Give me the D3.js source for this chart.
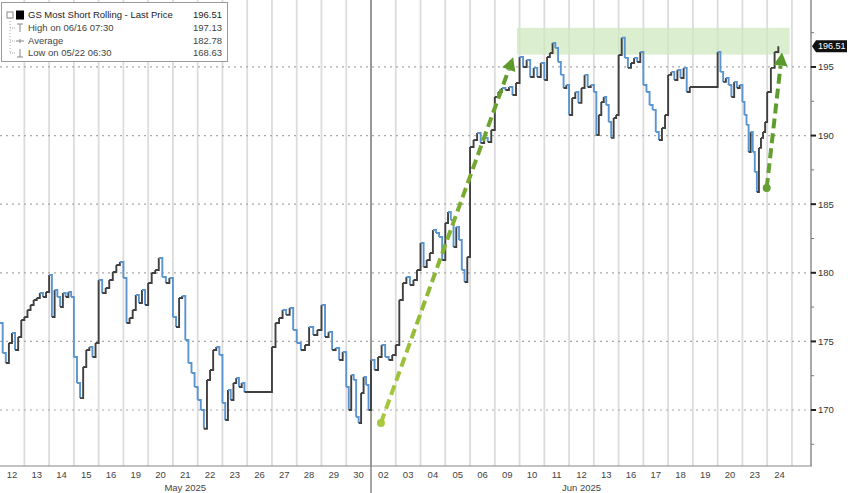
<!DOCTYPE html>
<html><head><meta charset="utf-8">
<script src="https://cdn.jsdelivr.net/npm/d3@7"></script>
<style>
html,body{margin:0;padding:0;background:#fff;}
svg{display:block;font-family:"Liberation Sans",Arial,sans-serif;}
</style></head>
<body><svg id="chart" width="848" height="493"></svg>
<script>
// ---------- DATA ----------
const dayLabels = ["12","13","14","15","16","19","20","21","22","23","26","27","28","29","30",
                   "02","03","04","05","06","09","10","11","12","13","16","17","18","19","20","23","24"];
const months = [
  {label:"May 2025", first:0, last:14},
  {label:"Jun 2025", first:15, last:31}
];
// intraday readings for each trading day (empty = market holiday)
const dayValues = [
  [176.34,174.15,173.43,174.88,175.61,174.37,175.32,176.56],            // May 12
  [176.78,177.29,177.65,178.02,178.16,178.53,178.24,178.60],            // May 13
  [179.84,176.78,178.75,178.24,177.51,178.53,178.24,178.60,178.24],     // May 14
  [173.86,171.97,170.87,173.13,174.37,174.59,173.86,174.88],            // May 15
  [179.48,178.53,178.89,179.48,180.06,180.57,180.79],                   // May 16
  [179.62,176.34,176.71,177.29,178.38,177.80,178.75,177.65],            // May 19
  [179.26,179.99,180.20,181.08,179.69,179.26,179.62],                   // May 20
  [176.78,176.05,178.16,178.31,175.10,173.43,172.70,171.68],            // May 21
  [170.73,170.00,168.63,172.19,172.92,174.37,174.59,174.01],            // May 22
  [170.51,169.27,171.46,170.73,171.97,172.33,171.68,171.97,171.31],     // May 23
  [],                                                                    // May 26
  [174.59,176.34,176.71,177.29,176.93,177.43,175.83],                   // May 27
  [174.88,174.37,174.74,176.05,175.47,175.83],                          // May 28
  [177.65,175.32,175.69,174.37,174.52,173.64,174.23],                   // May 29
  [171.68,170.00,172.55,172.19,169.49,169.05,171.24,172.41,171.82,170.00], // May 30
  [173.64,172.92,173.86,174.74,173.86,173.64,174.01],                   // Jun 02
  [174.74,178.02,179.26,179.69,179.11,179.48,180.20],                   // Jun 03
  [182.17,180.42,180.93,181.44,183.12,182.90,182.61,180.93],            // Jun 04
  [183.63,184.43,183.85,181.88,183.34,182.39,180.20,179.33,181.15],     // Jun 05
  [189.17,189.68,190.19,189.46,189.83,189.53,190.41],                   // Jun 06
  [192.81,193.18,193.47,193.32,193.54,192.96,193.83],                   // Jun 09
  [195.73,195.00,195.51,194.27,194.93,194.27,195.29],                   // Jun 10
  [194.05,195.73,196.02,196.75,196.38,195.36,194.42,193.47,193.69],     // Jun 11
  [191.50,192.74,193.18,192.38,193.47,194.42,193.54,193.69],            // Jun 12
  [193.18,190.04,191.50,192.45,192.81,192.23,190.99,189.83,191.28,191.50], // Jun 13
  [195.87,197.13,195.66,194.93,195.29,195.66,195.36,196.09],            // Jun 16
  [193.69,193.18,192.23,191.87,190.26,189.68,190.55,191.50],            // Jun 17
  [194.42,194.64,194.05,194.78,194.20,194.93,193.18,193.54],            // Jun 18
  [],                                                                    // Jun 19
  [196.09,194.64,193.91,194.20,193.69,192.81,193.91,193.47,193.69],     // Jun 20
  [192.45,191.50,190.77,188.80,190.26,188.80,187.35,185.89,189.10,189.83,190.26,190.99], // Jun 23
  [193.18,194.93,196.09,196.51]                                          // Jun 24
];
const lastSessionFraction = 0.45;   // share of the final day already traded
const yTicks = [170,175,180,185,190,195];
const yMinorTicks = [167.5,172.5,177.5,182.5,187.5,192.5,197.5];
const legendRows = [
  {label:"GS Most Short Rolling - Last Price", value:"196.51"},
  {label:"High on 06/16 07:30", value:"197.13"},
  {label:"Average", value:"182.78"},
  {label:"Low on 05/22 06:30", value:"168.63"}
];
const lastPrice = 196.51;
// highlighted band (day position, value)
const band = {t0:20.89, t1:31.91, v0:195.9, v1:197.85};
// annotation arrows: start (dot) -> tip
const arrows = [
  {t0:15.40, v0:169.05, t1:20.74, v1:195.70, c0:"#a9c93c", c1:"#5f9a2c"},
  {t0:30.98, v0:186.18, t1:31.60, v1:196.05, c0:"#66a032", c1:"#5a9a2c"}
];

// ---------- SCALES ----------
const svg = d3.select("#chart");
const W = 848, H = 493;
const axisX = 811, axisY = 466;
const x = d3.scaleLinear().domain([0, 32.77]).range([-0.4, axisX]);
const y = d3.scaleLinear().domain([165.92, 199.88]).range([axisY, 0]);

// ---------- GRID ----------
const nDays = dayLabels.length;
const boundaries = d3.range(1, nDays + 1);
svg.append("g").selectAll("line").data(boundaries).join("line")
  .attr("x1", d => x(d)).attr("x2", d => x(d))
  .attr("y1", 0).attr("y2", axisY)
  .attr("stroke", "#dcdcdc").attr("stroke-width", 1.8);
// month separator
svg.append("line")
  .attr("x1", x(months[1].first)).attr("x2", x(months[1].first))
  .attr("y1", 0).attr("y2", H)
  .attr("stroke", "#6a6a6a").attr("stroke-width", 1.2);

svg.append("g").selectAll("line").data(yTicks).join("line")
  .attr("x1", 0).attr("x2", axisX)
  .attr("y1", d => y(d)).attr("y2", d => y(d))
  .attr("stroke", "#a8a8a8").attr("stroke-width", 1.2)
  .attr("stroke-dasharray", "2,4");

// highlighted band
svg.append("rect")
  .attr("x", x(band.t0)).attr("width", x(band.t1) - x(band.t0))
  .attr("y", y(band.v1)).attr("height", y(band.v0) - y(band.v1))
  .attr("fill", "#cfe8bf").attr("opacity", 0.75);

// ---------- SERIES ----------
const pts = [];
dayValues.forEach((vals, d) => {
  const n = vals.length;
  const span = d === nDays - 1 ? lastSessionFraction : 1;
  vals.forEach((v, i) => pts.push({t: d + (n > 1 ? i / (d === nDays - 1 ? n - 1 : n) : 0) * span, v}));
});
const seg = svg.append("g").attr("fill", "none").attr("stroke-width", 1.9);
for (let i = 0; i < pts.length - 1; i++) {
  const a = pts[i], b = pts[i + 1];
  const up = b.v >= a.v;
  seg.append("path")
    .attr("d", `M${x(a.t)},${y(a.v)}H${x(b.t)}V${y(b.v)}`)
    .attr("stroke", up ? "#404040" : "#5b95cf");
}

// ---------- ARROWS ----------
const defs = svg.append("defs");
arrows.forEach((a, k) => {
  const x0 = x(a.t0), y0 = y(a.v0), x1 = x(a.t1), y1 = y(a.v1);
  const g = defs.append("linearGradient").attr("id", "ag" + k)
    .attr("gradientUnits", "userSpaceOnUse")
    .attr("x1", x0).attr("y1", y0).attr("x2", x1).attr("y2", y1);
  g.append("stop").attr("offset", 0).attr("stop-color", a.c0);
  g.append("stop").attr("offset", 1).attr("stop-color", a.c1);
  const ang = Math.atan2(y1 - y0, x1 - x0);
  const headLen = 13, headW = 7;
  const bx = x1 - headLen * Math.cos(ang), by = y1 - headLen * Math.sin(ang);
  svg.append("line")
    .attr("x1", x0).attr("y1", y0).attr("x2", bx).attr("y2", by)
    .attr("stroke", `url(#ag${k})`).attr("stroke-width", 4)
    .attr("stroke-dasharray", "10,5");
  const px = -Math.sin(ang), py = Math.cos(ang);
  svg.append("path")
    .attr("d", `M${x1},${y1}L${bx + px * headW},${by + py * headW}L${bx - px * headW},${by - py * headW}Z`)
    .attr("fill", a.c1);
  svg.append("circle").attr("cx", x0).attr("cy", y0).attr("r", 4).attr("fill", a.c0);
});

// ---------- AXES ----------
// right value axis
svg.append("line").attr("x1", axisX).attr("x2", axisX).attr("y1", 0).attr("y2", axisY)
  .attr("stroke", "#555").attr("stroke-width", 1);
svg.append("g").selectAll("line").data(yTicks).join("line")
  .attr("x1", axisX).attr("x2", axisX + 5).attr("y1", d => y(d)).attr("y2", d => y(d))
  .attr("stroke", "#222").attr("stroke-width", 2);
svg.append("g").selectAll("line").data(yMinorTicks).join("line")
  .attr("x1", axisX).attr("x2", axisX + 3).attr("y1", d => y(d)).attr("y2", d => y(d))
  .attr("stroke", "#777").attr("stroke-width", 1);
svg.append("g").selectAll("text").data(yTicks).join("text")
  .attr("x", axisX + 7).attr("y", d => y(d)).attr("dy", "0.35em")
  .attr("font-size", 9.5).attr("fill", "#333").text(d => d);
// last price tag
const ly = y(lastPrice);
svg.append("path")
  .attr("d", `M${axisX + 1},${ly}L${axisX + 5},${ly - 6}H${W - 1}V${ly + 6}H${axisX + 5}Z`)
  .attr("fill", "#111");
svg.append("text").attr("x", axisX + 7).attr("y", ly).attr("dy", "0.35em")
  .attr("font-size", 9).attr("fill", "#fff").text(lastPrice.toFixed(2));

// bottom time axis
svg.append("line").attr("x1", 0).attr("x2", axisX + 1).attr("y1", axisY).attr("y2", axisY)
  .attr("stroke", "#888").attr("stroke-width", 1.2);
svg.append("g").selectAll("text").data(dayLabels).join("text")
  .attr("x", (d, i) => x(i + 0.5)).attr("y", axisY + 9).attr("dy", "0.35em")
  .attr("text-anchor", "middle").attr("font-size", 9.5).attr("fill", "#444").text(d => d);
svg.append("g").selectAll("text").data(months).join("text")
  .attr("x", d => (x(d.first + 0.5) + x(d.last + 0.5)) / 2).attr("y", axisY + 22).attr("dy", "0.35em")
  .attr("text-anchor", "middle").attr("font-size", 9.5).attr("fill", "#444").text(d => d.label);

// ---------- LEGEND ----------
const lg = svg.append("g");
lg.append("rect").attr("x", 1.5).attr("y", 2.5).attr("width", 226).attr("height", 59)
  .attr("fill", "#fff").attr("stroke", "#9a9a9a");
const rowY = [15, 28, 41, 53];
lg.append("line").attr("x1", 10).attr("x2", 10).attr("y1", 18).attr("y2", 53)
  .attr("stroke", "#aaa").attr("stroke-dasharray", "1,2");
lg.append("rect").attr("x", 7).attr("y", 12).attr("width", 6).attr("height", 6)
  .attr("fill", "#fff").attr("stroke", "#888");
lg.append("rect").attr("x", 16).attr("y", 10.5).attr("width", 8).attr("height", 9).attr("fill", "#000");
// marker glyphs
lg.append("path").attr("d", `M17,${rowY[1]-4}H23M20,${rowY[1]-4}V${rowY[1]+4}`).attr("stroke", "#888").attr("fill", "none");
lg.append("path").attr("d", `M16,${rowY[2]}H24M20,${rowY[2]-2}V${rowY[2]+2}`).attr("stroke", "#888").attr("fill", "none");
lg.append("path").attr("d", `M17,${rowY[3]+4}H23M20,${rowY[3]-4}V${rowY[3]+4}`).attr("stroke", "#888").attr("fill", "none");
[1,2,3].forEach(i => lg.append("line").attr("x1", 10).attr("x2", 15).attr("y1", rowY[i]).attr("y2", rowY[i])
  .attr("stroke", "#aaa").attr("stroke-dasharray", "1,1"));
lg.selectAll("text.l").data(legendRows).join("text").attr("class", "l")
  .attr("x", 28).attr("y", (d, i) => rowY[i]).attr("dy", "0.35em")
  .attr("font-size", 9.5).attr("fill", (d, i) => i === 0 ? "#222" : "#444").text(d => d.label);
lg.selectAll("text.v").data(legendRows).join("text").attr("class", "v")
  .attr("x", 222).attr("y", (d, i) => rowY[i]).attr("dy", "0.35em").attr("text-anchor", "end")
  .attr("font-size", 9.5).attr("fill", (d, i) => i === 0 ? "#222" : "#444").text(d => d.value);
</script>
</body></html>
